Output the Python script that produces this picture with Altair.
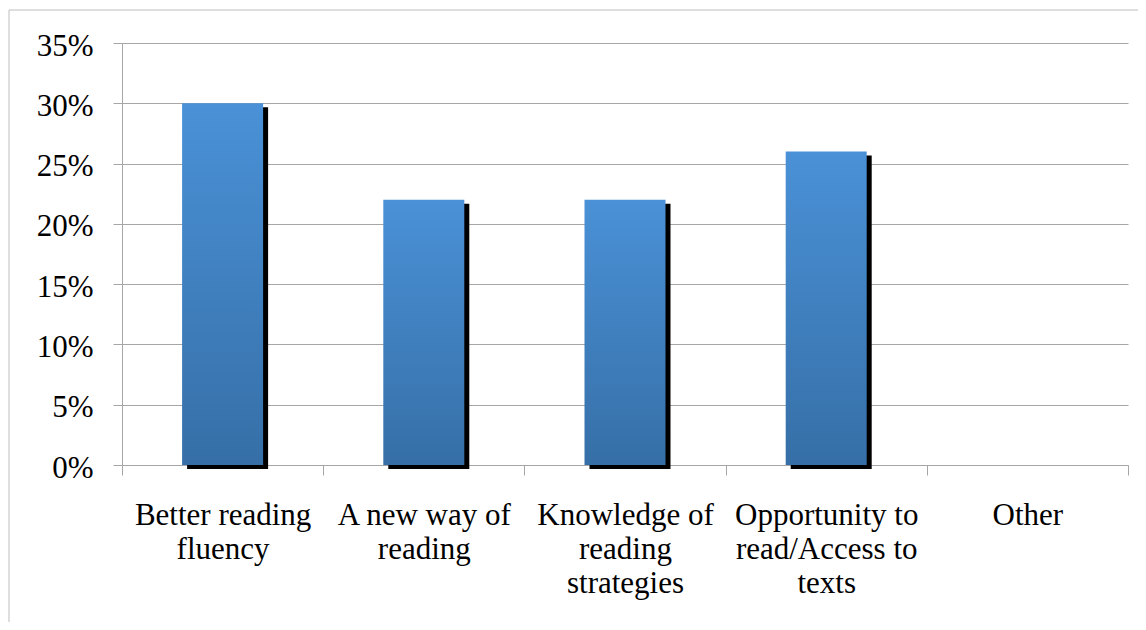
import json
import altair as alt
import pandas as pd

categories = [
    "Better reading fluency",
    "A new way of reading",
    "Knowledge of reading strategies",
    "Opportunity to read/Access to texts",
    "Other",
]
values = [0.30, 0.22, 0.22, 0.26, 0.0]
label_lines = [
    ["Better reading", "fluency"],
    ["A new way of", "reading"],
    ["Knowledge of", "reading", "strategies"],
    ["Opportunity to", "read/Access to", "texts"],
    ["Other"],
]
y_ticks = [0, 0.05, 0.10, 0.15, 0.20, 0.25, 0.30, 0.35]

df = pd.DataFrame({"category": categories, "value": values})

label_map = json.dumps(dict(zip(categories, label_lines)))
label_expr = f"{label_map}[datum.label]"

FONT = "Liberation Serif, Times New Roman, serif"
GRAY = "#a6a6a6"

x_enc = alt.X(
    "category:N",
    sort=categories,
    scale=alt.Scale(domain=categories, paddingInner=0, paddingOuter=0),
    axis=alt.Axis(
        title=None,
        tickBand="extent",
        tickSize=10,
        tickColor=GRAY,
        domainColor=GRAY,
        labelAngle=0,
        labelLineHeight=34,
        labelPadding=25,
        labelLimit=400,
        labelOverlap=False,
        labelExpr=label_expr,
        grid=False,
    ),
)
y_enc = alt.Y(
    "value:Q",
    scale=alt.Scale(domain=[0, 0.35], nice=False),
    axis=alt.Axis(
        title=None,
        values=y_ticks,
        format=".0%",
        tickSize=9,
        tickColor=GRAY,
        domainColor=GRAY,
        gridColor=GRAY,
        labelPadding=20,
        labelOffset=3,
    ),
)

base = alt.Chart(df)

shadow = base.mark_bar(size=81, color="black", xOffset=5, yOffset=4).encode(x=x_enc, y=y_enc)

bars = base.mark_bar(
    size=81,
    color=alt.Gradient(
        gradient="linear",
        stops=[
            alt.GradientStop(color="#4A91D7", offset=0),
            alt.GradientStop(color="#366FA7", offset=1),
        ],
        x1=0, x2=0, y1=0, y2=1,
    ),
).encode(x=x_enc, y=y_enc)

border = alt.Chart(pd.DataFrame({"a": [0]})).mark_rect(
    fillOpacity=0, stroke="#bdbdbd", strokeWidth=1
).encode(
    x=alt.value(-113), x2=alt.value(1060), y=alt.value(-33), y2=alt.value(700)
)

chart = alt.layer(border, shadow, bars).properties(
    width=1006,
    height=422,
    autosize=alt.AutoSizeParams(type="none"),
    padding={"left": 114, "top": 35, "right": 10, "bottom": 157},
    background="white",
).configure_view(stroke=None).configure_axis(
    labelFont=FONT,
    labelFontSize=31,
    labelColor="black",
)

chart.save("out.html", embed_options={"renderer": "svg", "actions": False})
